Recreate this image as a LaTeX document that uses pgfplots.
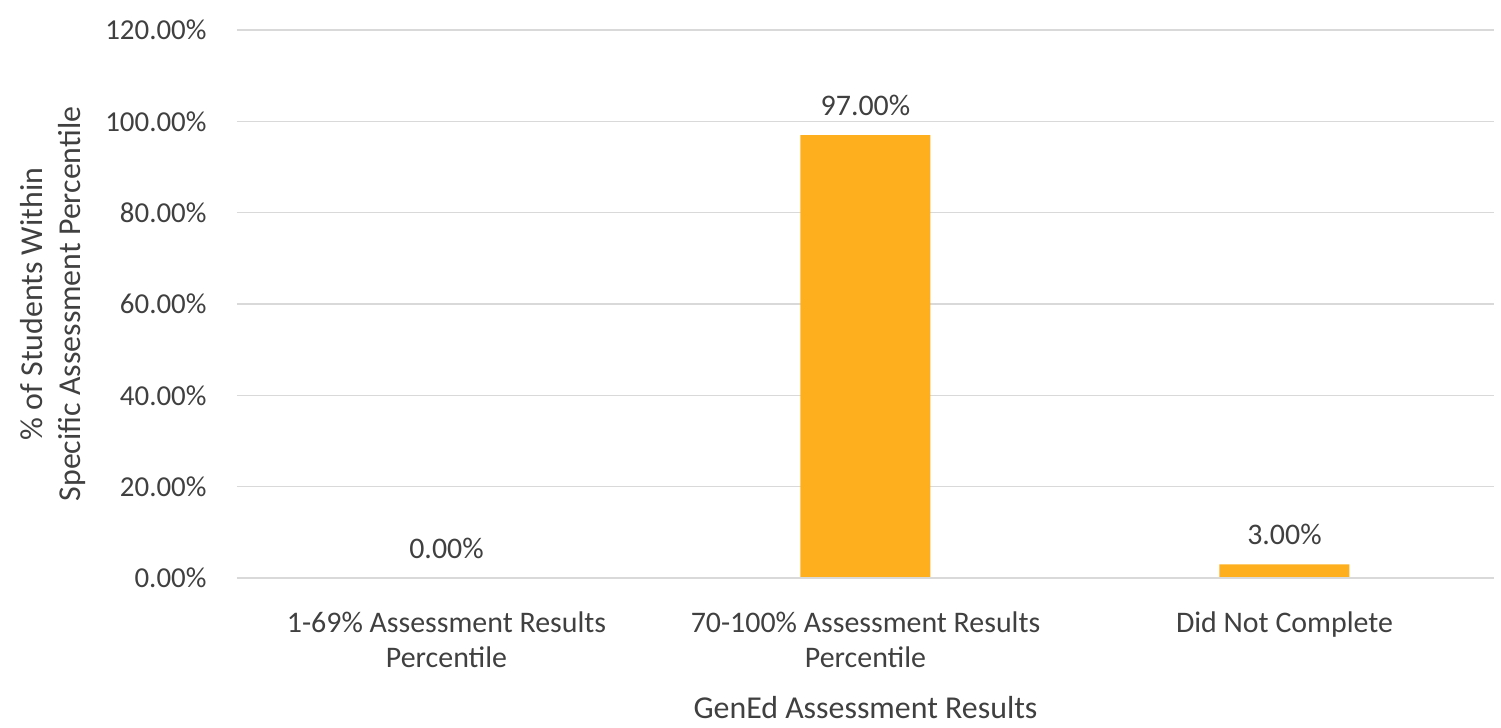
\documentclass[border=0pt]{standalone}
\usepackage{pgfplots}
\pgfplotsset{compat=1.18}
\usepackage{fontspec}
\setmainfont{Carlito}
\definecolor{barorange}{RGB}{253,175,30}
\definecolor{txt}{RGB}{64,64,64}
\definecolor{gridc}{RGB}{217,217,217}
\begin{document}
\begin{tikzpicture}
\path[use as bounding box] (-237bp,-150bp) rectangle (1264bp,578bp);
\begin{axis}[
  scale only axis,
  width=1257bp, height=548bp,
  at={(0,0)}, anchor=south west,
  ymin=0, ymax=120,
  xmin=-0.5, xmax=2.5,
  ytick={0,20,...,120},
  xtick={0,1,2},
  xticklabels={{1-69\% Assessment Results\\Percentile},{70-100\% Assessment Results\\Percentile},{Did Not Complete}},
  axis line style={draw=none},
  major tick length=0pt,
  ymajorgrids, grid style={gridc, line width=1.2bp},
  /pgf/number format/assume math mode=true,
  yticklabel={\pgfmathprintnumber[fixed,fixed zerofill,precision=2]{\tick}\%},
  yticklabel style={font=\fontsize{29}{34}\selectfont, text=txt, xshift=-27bp},
  xticklabel style={font=\fontsize{30}{35}\selectfont, text=txt, align=center, anchor=north, yshift=-30bp},
  xlabel={GenEd Assessment Results},
  xlabel style={font=\fontsize{32}{38}\selectfont, text=txt, yshift=-22bp},
  ylabel={\% of Students Within\\Specific Assessment Percentile},
  ylabel style={font=\fontsize{32}{38}\selectfont, text=txt, align=center, yshift=13bp},
  ybar, bar width=130bp,
  nodes near coords={\pgfmathprintnumber[fixed,fixed zerofill,precision=2]{\pgfplotspointmeta}\%},
  nodes near coords style={font=\fontsize{30}{35}\selectfont, text=txt, anchor=south, yshift=16bp},
]
\addplot[fill=barorange, draw=none] coordinates {(0,0) (1,97) (2,3)};
\draw[gridc, line width=1.2bp] (axis cs:-0.5,0) -- (axis cs:2.5,0);
\end{axis}
\end{tikzpicture}
\end{document}
